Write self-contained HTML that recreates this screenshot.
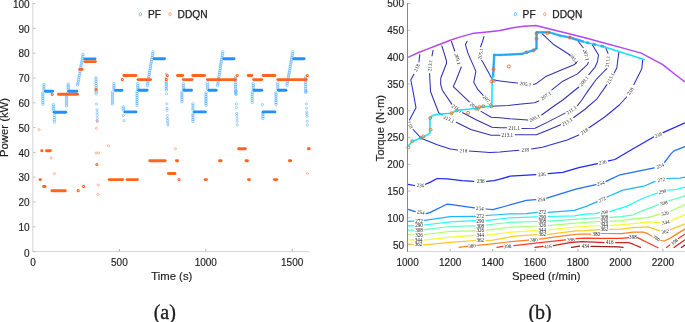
<!DOCTYPE html>
<html><head><meta charset="utf-8"><title>Figure</title>
<style>html,body{margin:0;padding:0;background:#fff}svg{display:block}</style></head>
<body><svg width="685" height="322" viewBox="0 0 685 322">
<style>
text{font-family:"Liberation Sans",Arial,Helvetica,sans-serif;fill:#1c1c1c}
.tk{font-size:10px;stroke:#1c1c1c;stroke-width:0.15px}
.lg{font-size:10.2px;fill:#1c1c1c;stroke:#1c1c1c;stroke-width:0.25px}
.lb{font-size:11.3px;stroke:#1c1c1c;stroke-width:0.15px}
.cap{font-family:"Liberation Serif","Times New Roman",serif;font-size:20px;fill:#1a1a1a;stroke:#1a1a1a;stroke-width:0.3px}
.cl{font-family:"Liberation Serif","Times New Roman",serif;font-size:5.1px;fill:#222}
</style>
<rect width="685" height="322" fill="#fff"/>
<g id="left"><path d="M32.8 3.1V251.5H309.3" fill="none" stroke="#d6d6d6" stroke-width="1.1"/><line x1="33.2" y1="251.6" x2="35.6" y2="251.6" stroke="#b0b0b0" stroke-width="0.8"/><text x="29.6" y="256.7" text-anchor="end" class="tk">0</text><line x1="33.2" y1="226.8" x2="35.6" y2="226.8" stroke="#b0b0b0" stroke-width="0.8"/><text x="29.6" y="231.0" text-anchor="end" class="tk">10</text><line x1="33.2" y1="202.0" x2="35.6" y2="202.0" stroke="#b0b0b0" stroke-width="0.8"/><text x="29.6" y="206.2" text-anchor="end" class="tk">20</text><line x1="33.2" y1="177.2" x2="35.6" y2="177.2" stroke="#b0b0b0" stroke-width="0.8"/><text x="29.6" y="181.4" text-anchor="end" class="tk">30</text><line x1="33.2" y1="152.4" x2="35.6" y2="152.4" stroke="#b0b0b0" stroke-width="0.8"/><text x="29.6" y="156.6" text-anchor="end" class="tk">40</text><line x1="33.2" y1="127.6" x2="35.6" y2="127.6" stroke="#b0b0b0" stroke-width="0.8"/><text x="29.6" y="131.8" text-anchor="end" class="tk">50</text><line x1="33.2" y1="102.8" x2="35.6" y2="102.8" stroke="#b0b0b0" stroke-width="0.8"/><text x="29.6" y="107.0" text-anchor="end" class="tk">60</text><line x1="33.2" y1="78.0" x2="35.6" y2="78.0" stroke="#b0b0b0" stroke-width="0.8"/><text x="29.6" y="82.2" text-anchor="end" class="tk">70</text><line x1="33.2" y1="53.2" x2="35.6" y2="53.2" stroke="#b0b0b0" stroke-width="0.8"/><text x="29.6" y="57.4" text-anchor="end" class="tk">80</text><line x1="33.2" y1="28.4" x2="35.6" y2="28.4" stroke="#b0b0b0" stroke-width="0.8"/><text x="29.6" y="32.6" text-anchor="end" class="tk">90</text><line x1="33.2" y1="3.6" x2="35.6" y2="3.6" stroke="#b0b0b0" stroke-width="0.8"/><text x="29.6" y="7.8" text-anchor="end" class="tk">100</text><text x="33.0" y="265.8" text-anchor="middle" class="tk">0</text><line x1="119.4" y1="251.2" x2="119.4" y2="248.9" stroke="#9a9a9a" stroke-width="0.8"/><text x="119.4" y="265.8" text-anchor="middle" class="tk">500</text><line x1="205.8" y1="251.2" x2="205.8" y2="248.9" stroke="#9a9a9a" stroke-width="0.8"/><text x="205.8" y="265.8" text-anchor="middle" class="tk">1000</text><line x1="292.2" y1="251.2" x2="292.2" y2="248.9" stroke="#9a9a9a" stroke-width="0.8"/><text x="292.2" y="265.8" text-anchor="middle" class="tk">1500</text><text x="171.8" y="279.8" text-anchor="middle" class="lb">Time (s)</text><text transform="translate(8.2 127.5) rotate(-90)" text-anchor="middle" class="lb">Power (kW)</text><ellipse cx="140.4" cy="14.2" rx="1.15" ry="1.65" fill="none" stroke="#1e90ff" stroke-width="0.7" opacity="0.8"/><text x="148" y="17.8" class="lg">PF</text><ellipse cx="170.1" cy="14.2" rx="1.15" ry="1.65" fill="none" stroke="#ff641e" stroke-width="0.7" opacity="0.8"/><text x="177.6" y="17.8" class="lg">DDQN</text><text x="164.8" y="319" text-anchor="middle" class="cap">(a)</text><circle cx="43.9" cy="84.3" r="1.25" fill="none" stroke="#1e90ff" stroke-width="0.6" opacity="0.7"/><circle cx="43.9" cy="86.2" r="1.25" fill="none" stroke="#1e90ff" stroke-width="0.6" opacity="0.7"/><circle cx="43.9" cy="88.1" r="1.25" fill="none" stroke="#1e90ff" stroke-width="0.6" opacity="0.7"/><circle cx="43.9" cy="90.0" r="1.25" fill="none" stroke="#1e90ff" stroke-width="0.6" opacity="0.7"/><circle cx="42.8" cy="93.0" r="1.25" fill="none" stroke="#1e90ff" stroke-width="0.6" opacity="0.7"/><circle cx="42.8" cy="94.9" r="1.25" fill="none" stroke="#1e90ff" stroke-width="0.6" opacity="0.7"/><circle cx="42.8" cy="96.8" r="1.25" fill="none" stroke="#1e90ff" stroke-width="0.6" opacity="0.7"/><circle cx="42.8" cy="98.7" r="1.25" fill="none" stroke="#1e90ff" stroke-width="0.6" opacity="0.7"/><circle cx="42.8" cy="100.5" r="1.25" fill="none" stroke="#1e90ff" stroke-width="0.6" opacity="0.7"/><circle cx="42.8" cy="102.4" r="1.25" fill="none" stroke="#1e90ff" stroke-width="0.6" opacity="0.7"/><circle cx="42.8" cy="104.3" r="1.25" fill="none" stroke="#1e90ff" stroke-width="0.6" opacity="0.7"/><circle cx="53.4" cy="104.6" r="1.25" fill="none" stroke="#1e90ff" stroke-width="0.6" opacity="0.7"/><circle cx="53.4" cy="106.4" r="1.25" fill="none" stroke="#1e90ff" stroke-width="0.6" opacity="0.7"/><circle cx="53.4" cy="108.2" r="1.25" fill="none" stroke="#1e90ff" stroke-width="0.6" opacity="0.7"/><circle cx="53.4" cy="110.0" r="1.25" fill="none" stroke="#1e90ff" stroke-width="0.6" opacity="0.7"/><circle cx="54.4" cy="115.5" r="1.25" fill="none" stroke="#1e90ff" stroke-width="0.6" opacity="0.7"/><circle cx="54.4" cy="117.6" r="1.25" fill="none" stroke="#1e90ff" stroke-width="0.6" opacity="0.7"/><circle cx="54.4" cy="119.7" r="1.25" fill="none" stroke="#1e90ff" stroke-width="0.6" opacity="0.7"/><circle cx="54.4" cy="121.8" r="1.25" fill="none" stroke="#1e90ff" stroke-width="0.6" opacity="0.7"/><circle cx="68.2" cy="84.3" r="1.25" fill="none" stroke="#1e90ff" stroke-width="0.6" opacity="0.7"/><circle cx="68.2" cy="86.0" r="1.25" fill="none" stroke="#1e90ff" stroke-width="0.6" opacity="0.7"/><circle cx="68.2" cy="87.8" r="1.25" fill="none" stroke="#1e90ff" stroke-width="0.6" opacity="0.7"/><circle cx="68.2" cy="89.5" r="1.25" fill="none" stroke="#1e90ff" stroke-width="0.6" opacity="0.7"/><circle cx="66.5" cy="94.0" r="1.25" fill="none" stroke="#1e90ff" stroke-width="0.6" opacity="0.7"/><circle cx="66.5" cy="96.0" r="1.25" fill="none" stroke="#1e90ff" stroke-width="0.6" opacity="0.7"/><circle cx="66.5" cy="98.0" r="1.25" fill="none" stroke="#1e90ff" stroke-width="0.6" opacity="0.7"/><circle cx="66.5" cy="100.0" r="1.25" fill="none" stroke="#1e90ff" stroke-width="0.6" opacity="0.7"/><circle cx="66.5" cy="102.0" r="1.25" fill="none" stroke="#1e90ff" stroke-width="0.6" opacity="0.7"/><circle cx="66.5" cy="104.0" r="1.25" fill="none" stroke="#1e90ff" stroke-width="0.6" opacity="0.7"/><circle cx="66.5" cy="106.0" r="1.25" fill="none" stroke="#1e90ff" stroke-width="0.6" opacity="0.7"/><circle cx="96.0" cy="77.7" r="1.25" fill="none" stroke="#1e90ff" stroke-width="0.6" opacity="0.7"/><circle cx="96.0" cy="79.7" r="1.25" fill="none" stroke="#1e90ff" stroke-width="0.6" opacity="0.7"/><circle cx="96.1" cy="81.7" r="1.25" fill="none" stroke="#1e90ff" stroke-width="0.6" opacity="0.7"/><circle cx="96.1" cy="83.7" r="1.25" fill="none" stroke="#1e90ff" stroke-width="0.6" opacity="0.7"/><circle cx="96.2" cy="85.8" r="1.25" fill="none" stroke="#1e90ff" stroke-width="0.6" opacity="0.7"/><circle cx="96.2" cy="87.8" r="1.25" fill="none" stroke="#1e90ff" stroke-width="0.6" opacity="0.7"/><circle cx="96.2" cy="89.8" r="1.25" fill="none" stroke="#1e90ff" stroke-width="0.6" opacity="0.7"/><circle cx="96.3" cy="91.8" r="1.25" fill="none" stroke="#1e90ff" stroke-width="0.6" opacity="0.7"/><circle cx="96.3" cy="93.8" r="1.25" fill="none" stroke="#1e90ff" stroke-width="0.6" opacity="0.7"/><circle cx="113.9" cy="83.6" r="1.25" fill="none" stroke="#1e90ff" stroke-width="0.6" opacity="0.7"/><circle cx="113.9" cy="85.4" r="1.25" fill="none" stroke="#1e90ff" stroke-width="0.6" opacity="0.7"/><circle cx="113.9" cy="87.2" r="1.25" fill="none" stroke="#1e90ff" stroke-width="0.6" opacity="0.7"/><circle cx="113.9" cy="89.0" r="1.25" fill="none" stroke="#1e90ff" stroke-width="0.6" opacity="0.7"/><circle cx="112.5" cy="92.2" r="1.25" fill="none" stroke="#1e90ff" stroke-width="0.6" opacity="0.7"/><circle cx="112.5" cy="94.2" r="1.25" fill="none" stroke="#1e90ff" stroke-width="0.6" opacity="0.7"/><circle cx="112.5" cy="96.1" r="1.25" fill="none" stroke="#1e90ff" stroke-width="0.6" opacity="0.7"/><circle cx="112.5" cy="98.1" r="1.25" fill="none" stroke="#1e90ff" stroke-width="0.6" opacity="0.7"/><circle cx="112.5" cy="100.0" r="1.25" fill="none" stroke="#1e90ff" stroke-width="0.6" opacity="0.7"/><circle cx="112.5" cy="102.0" r="1.25" fill="none" stroke="#1e90ff" stroke-width="0.6" opacity="0.7"/><circle cx="112.5" cy="103.9" r="1.25" fill="none" stroke="#1e90ff" stroke-width="0.6" opacity="0.7"/><circle cx="123.4" cy="106.8" r="1.25" fill="none" stroke="#1e90ff" stroke-width="0.6" opacity="0.7"/><circle cx="123.4" cy="108.4" r="1.25" fill="none" stroke="#1e90ff" stroke-width="0.6" opacity="0.7"/><circle cx="123.4" cy="110.0" r="1.25" fill="none" stroke="#1e90ff" stroke-width="0.6" opacity="0.7"/><circle cx="137.8" cy="83.6" r="1.25" fill="none" stroke="#1e90ff" stroke-width="0.6" opacity="0.7"/><circle cx="137.8" cy="85.4" r="1.25" fill="none" stroke="#1e90ff" stroke-width="0.6" opacity="0.7"/><circle cx="137.8" cy="87.2" r="1.25" fill="none" stroke="#1e90ff" stroke-width="0.6" opacity="0.7"/><circle cx="137.8" cy="89.0" r="1.25" fill="none" stroke="#1e90ff" stroke-width="0.6" opacity="0.7"/><circle cx="137.0" cy="91.5" r="1.25" fill="none" stroke="#1e90ff" stroke-width="0.6" opacity="0.7"/><circle cx="137.0" cy="93.5" r="1.25" fill="none" stroke="#1e90ff" stroke-width="0.6" opacity="0.7"/><circle cx="137.0" cy="95.4" r="1.25" fill="none" stroke="#1e90ff" stroke-width="0.6" opacity="0.7"/><circle cx="137.0" cy="97.4" r="1.25" fill="none" stroke="#1e90ff" stroke-width="0.6" opacity="0.7"/><circle cx="137.0" cy="99.4" r="1.25" fill="none" stroke="#1e90ff" stroke-width="0.6" opacity="0.7"/><circle cx="137.0" cy="101.4" r="1.25" fill="none" stroke="#1e90ff" stroke-width="0.6" opacity="0.7"/><circle cx="137.0" cy="103.3" r="1.25" fill="none" stroke="#1e90ff" stroke-width="0.6" opacity="0.7"/><circle cx="137.0" cy="105.3" r="1.25" fill="none" stroke="#1e90ff" stroke-width="0.6" opacity="0.7"/><circle cx="166.3" cy="81.4" r="1.25" fill="none" stroke="#1e90ff" stroke-width="0.6" opacity="0.7"/><circle cx="166.3" cy="83.1" r="1.25" fill="none" stroke="#1e90ff" stroke-width="0.6" opacity="0.7"/><circle cx="166.3" cy="84.9" r="1.25" fill="none" stroke="#1e90ff" stroke-width="0.6" opacity="0.7"/><circle cx="166.3" cy="86.6" r="1.25" fill="none" stroke="#1e90ff" stroke-width="0.6" opacity="0.7"/><circle cx="166.3" cy="88.4" r="1.25" fill="none" stroke="#1e90ff" stroke-width="0.6" opacity="0.7"/><circle cx="166.3" cy="90.1" r="1.25" fill="none" stroke="#1e90ff" stroke-width="0.6" opacity="0.7"/><circle cx="183.4" cy="83.6" r="1.25" fill="none" stroke="#1e90ff" stroke-width="0.6" opacity="0.7"/><circle cx="183.4" cy="85.4" r="1.25" fill="none" stroke="#1e90ff" stroke-width="0.6" opacity="0.7"/><circle cx="183.4" cy="87.2" r="1.25" fill="none" stroke="#1e90ff" stroke-width="0.6" opacity="0.7"/><circle cx="183.4" cy="89.0" r="1.25" fill="none" stroke="#1e90ff" stroke-width="0.6" opacity="0.7"/><circle cx="181.9" cy="92.2" r="1.25" fill="none" stroke="#1e90ff" stroke-width="0.6" opacity="0.7"/><circle cx="181.9" cy="94.1" r="1.25" fill="none" stroke="#1e90ff" stroke-width="0.6" opacity="0.7"/><circle cx="181.9" cy="96.0" r="1.25" fill="none" stroke="#1e90ff" stroke-width="0.6" opacity="0.7"/><circle cx="181.9" cy="97.9" r="1.25" fill="none" stroke="#1e90ff" stroke-width="0.6" opacity="0.7"/><circle cx="181.9" cy="99.8" r="1.25" fill="none" stroke="#1e90ff" stroke-width="0.6" opacity="0.7"/><circle cx="181.9" cy="101.7" r="1.25" fill="none" stroke="#1e90ff" stroke-width="0.6" opacity="0.7"/><circle cx="192.9" cy="103.9" r="1.25" fill="none" stroke="#1e90ff" stroke-width="0.6" opacity="0.7"/><circle cx="192.9" cy="105.9" r="1.25" fill="none" stroke="#1e90ff" stroke-width="0.6" opacity="0.7"/><circle cx="192.9" cy="108.0" r="1.25" fill="none" stroke="#1e90ff" stroke-width="0.6" opacity="0.7"/><circle cx="192.9" cy="110.0" r="1.25" fill="none" stroke="#1e90ff" stroke-width="0.6" opacity="0.7"/><circle cx="192.9" cy="114.0" r="1.25" fill="none" stroke="#1e90ff" stroke-width="0.6" opacity="0.7"/><circle cx="192.9" cy="115.8" r="1.25" fill="none" stroke="#1e90ff" stroke-width="0.6" opacity="0.7"/><circle cx="192.9" cy="117.7" r="1.25" fill="none" stroke="#1e90ff" stroke-width="0.6" opacity="0.7"/><circle cx="192.9" cy="119.6" r="1.25" fill="none" stroke="#1e90ff" stroke-width="0.6" opacity="0.7"/><circle cx="192.9" cy="121.4" r="1.25" fill="none" stroke="#1e90ff" stroke-width="0.6" opacity="0.7"/><circle cx="207.5" cy="82.8" r="1.25" fill="none" stroke="#1e90ff" stroke-width="0.6" opacity="0.7"/><circle cx="207.5" cy="84.9" r="1.25" fill="none" stroke="#1e90ff" stroke-width="0.6" opacity="0.7"/><circle cx="207.5" cy="86.9" r="1.25" fill="none" stroke="#1e90ff" stroke-width="0.6" opacity="0.7"/><circle cx="207.5" cy="89.0" r="1.25" fill="none" stroke="#1e90ff" stroke-width="0.6" opacity="0.7"/><circle cx="206.0" cy="92.9" r="1.25" fill="none" stroke="#1e90ff" stroke-width="0.6" opacity="0.7"/><circle cx="206.0" cy="94.7" r="1.25" fill="none" stroke="#1e90ff" stroke-width="0.6" opacity="0.7"/><circle cx="206.0" cy="96.4" r="1.25" fill="none" stroke="#1e90ff" stroke-width="0.6" opacity="0.7"/><circle cx="206.0" cy="98.2" r="1.25" fill="none" stroke="#1e90ff" stroke-width="0.6" opacity="0.7"/><circle cx="206.0" cy="100.0" r="1.25" fill="none" stroke="#1e90ff" stroke-width="0.6" opacity="0.7"/><circle cx="206.0" cy="101.8" r="1.25" fill="none" stroke="#1e90ff" stroke-width="0.6" opacity="0.7"/><circle cx="206.0" cy="103.5" r="1.25" fill="none" stroke="#1e90ff" stroke-width="0.6" opacity="0.7"/><circle cx="206.0" cy="105.3" r="1.25" fill="none" stroke="#1e90ff" stroke-width="0.6" opacity="0.7"/><circle cx="235.4" cy="77.0" r="1.25" fill="none" stroke="#1e90ff" stroke-width="0.6" opacity="0.7"/><circle cx="235.4" cy="78.9" r="1.25" fill="none" stroke="#1e90ff" stroke-width="0.6" opacity="0.7"/><circle cx="235.4" cy="80.7" r="1.25" fill="none" stroke="#1e90ff" stroke-width="0.6" opacity="0.7"/><circle cx="235.5" cy="82.6" r="1.25" fill="none" stroke="#1e90ff" stroke-width="0.6" opacity="0.7"/><circle cx="235.5" cy="84.5" r="1.25" fill="none" stroke="#1e90ff" stroke-width="0.6" opacity="0.7"/><circle cx="235.5" cy="86.3" r="1.25" fill="none" stroke="#1e90ff" stroke-width="0.6" opacity="0.7"/><circle cx="235.5" cy="88.2" r="1.25" fill="none" stroke="#1e90ff" stroke-width="0.6" opacity="0.7"/><circle cx="235.6" cy="90.1" r="1.25" fill="none" stroke="#1e90ff" stroke-width="0.6" opacity="0.7"/><circle cx="235.6" cy="91.9" r="1.25" fill="none" stroke="#1e90ff" stroke-width="0.6" opacity="0.7"/><circle cx="235.6" cy="93.8" r="1.25" fill="none" stroke="#1e90ff" stroke-width="0.6" opacity="0.7"/><circle cx="253.2" cy="83.6" r="1.25" fill="none" stroke="#1e90ff" stroke-width="0.6" opacity="0.7"/><circle cx="253.2" cy="85.4" r="1.25" fill="none" stroke="#1e90ff" stroke-width="0.6" opacity="0.7"/><circle cx="253.2" cy="87.2" r="1.25" fill="none" stroke="#1e90ff" stroke-width="0.6" opacity="0.7"/><circle cx="253.2" cy="89.0" r="1.25" fill="none" stroke="#1e90ff" stroke-width="0.6" opacity="0.7"/><circle cx="252.2" cy="92.2" r="1.25" fill="none" stroke="#1e90ff" stroke-width="0.6" opacity="0.7"/><circle cx="252.2" cy="94.2" r="1.25" fill="none" stroke="#1e90ff" stroke-width="0.6" opacity="0.7"/><circle cx="252.2" cy="96.3" r="1.25" fill="none" stroke="#1e90ff" stroke-width="0.6" opacity="0.7"/><circle cx="252.2" cy="98.3" r="1.25" fill="none" stroke="#1e90ff" stroke-width="0.6" opacity="0.7"/><circle cx="252.2" cy="100.4" r="1.25" fill="none" stroke="#1e90ff" stroke-width="0.6" opacity="0.7"/><circle cx="252.2" cy="102.4" r="1.25" fill="none" stroke="#1e90ff" stroke-width="0.6" opacity="0.7"/><circle cx="262.9" cy="113.0" r="1.25" fill="none" stroke="#1e90ff" stroke-width="0.6" opacity="0.7"/><circle cx="262.9" cy="114.8" r="1.25" fill="none" stroke="#1e90ff" stroke-width="0.6" opacity="0.7"/><circle cx="262.9" cy="116.7" r="1.25" fill="none" stroke="#1e90ff" stroke-width="0.6" opacity="0.7"/><circle cx="262.9" cy="118.5" r="1.25" fill="none" stroke="#1e90ff" stroke-width="0.6" opacity="0.7"/><circle cx="277.8" cy="82.8" r="1.25" fill="none" stroke="#1e90ff" stroke-width="0.6" opacity="0.7"/><circle cx="277.8" cy="84.9" r="1.25" fill="none" stroke="#1e90ff" stroke-width="0.6" opacity="0.7"/><circle cx="277.8" cy="86.9" r="1.25" fill="none" stroke="#1e90ff" stroke-width="0.6" opacity="0.7"/><circle cx="277.8" cy="89.0" r="1.25" fill="none" stroke="#1e90ff" stroke-width="0.6" opacity="0.7"/><circle cx="276.0" cy="92.9" r="1.25" fill="none" stroke="#1e90ff" stroke-width="0.6" opacity="0.7"/><circle cx="276.0" cy="94.9" r="1.25" fill="none" stroke="#1e90ff" stroke-width="0.6" opacity="0.7"/><circle cx="276.0" cy="96.8" r="1.25" fill="none" stroke="#1e90ff" stroke-width="0.6" opacity="0.7"/><circle cx="276.0" cy="98.8" r="1.25" fill="none" stroke="#1e90ff" stroke-width="0.6" opacity="0.7"/><circle cx="276.0" cy="100.7" r="1.25" fill="none" stroke="#1e90ff" stroke-width="0.6" opacity="0.7"/><circle cx="276.0" cy="102.6" r="1.25" fill="none" stroke="#1e90ff" stroke-width="0.6" opacity="0.7"/><circle cx="276.0" cy="104.6" r="1.25" fill="none" stroke="#1e90ff" stroke-width="0.6" opacity="0.7"/><circle cx="305.5" cy="77.0" r="1.25" fill="none" stroke="#1e90ff" stroke-width="0.6" opacity="0.7"/><circle cx="305.5" cy="78.9" r="1.25" fill="none" stroke="#1e90ff" stroke-width="0.6" opacity="0.7"/><circle cx="305.6" cy="80.8" r="1.25" fill="none" stroke="#1e90ff" stroke-width="0.6" opacity="0.7"/><circle cx="305.6" cy="82.7" r="1.25" fill="none" stroke="#1e90ff" stroke-width="0.6" opacity="0.7"/><circle cx="305.6" cy="84.7" r="1.25" fill="none" stroke="#1e90ff" stroke-width="0.6" opacity="0.7"/><circle cx="305.6" cy="86.6" r="1.25" fill="none" stroke="#1e90ff" stroke-width="0.6" opacity="0.7"/><circle cx="305.6" cy="88.5" r="1.25" fill="none" stroke="#1e90ff" stroke-width="0.6" opacity="0.7"/><circle cx="305.7" cy="90.4" r="1.25" fill="none" stroke="#1e90ff" stroke-width="0.6" opacity="0.7"/><circle cx="305.7" cy="92.3" r="1.25" fill="none" stroke="#1e90ff" stroke-width="0.6" opacity="0.7"/><circle cx="77.6" cy="85.0" r="1.25" fill="none" stroke="#1e90ff" stroke-width="0.6" opacity="0.7"/><circle cx="77.9" cy="83.1" r="1.25" fill="none" stroke="#1e90ff" stroke-width="0.6" opacity="0.7"/><circle cx="78.3" cy="81.2" r="1.25" fill="none" stroke="#1e90ff" stroke-width="0.6" opacity="0.7"/><circle cx="78.6" cy="79.3" r="1.25" fill="none" stroke="#1e90ff" stroke-width="0.6" opacity="0.7"/><circle cx="79.0" cy="77.3" r="1.25" fill="none" stroke="#1e90ff" stroke-width="0.6" opacity="0.7"/><circle cx="79.3" cy="75.4" r="1.25" fill="none" stroke="#1e90ff" stroke-width="0.6" opacity="0.7"/><circle cx="79.7" cy="73.5" r="1.25" fill="none" stroke="#1e90ff" stroke-width="0.6" opacity="0.7"/><circle cx="80.0" cy="71.6" r="1.25" fill="none" stroke="#1e90ff" stroke-width="0.6" opacity="0.7"/><circle cx="80.3" cy="69.7" r="1.25" fill="none" stroke="#1e90ff" stroke-width="0.6" opacity="0.7"/><circle cx="80.7" cy="67.8" r="1.25" fill="none" stroke="#1e90ff" stroke-width="0.6" opacity="0.7"/><circle cx="81.0" cy="65.9" r="1.25" fill="none" stroke="#1e90ff" stroke-width="0.6" opacity="0.7"/><circle cx="81.4" cy="64.0" r="1.25" fill="none" stroke="#1e90ff" stroke-width="0.6" opacity="0.7"/><circle cx="81.7" cy="62.0" r="1.25" fill="none" stroke="#1e90ff" stroke-width="0.6" opacity="0.7"/><circle cx="82.1" cy="60.1" r="1.25" fill="none" stroke="#1e90ff" stroke-width="0.6" opacity="0.7"/><circle cx="82.4" cy="58.2" r="1.25" fill="none" stroke="#1e90ff" stroke-width="0.6" opacity="0.7"/><circle cx="82.8" cy="56.3" r="1.25" fill="none" stroke="#1e90ff" stroke-width="0.6" opacity="0.7"/><circle cx="83.1" cy="54.4" r="1.25" fill="none" stroke="#1e90ff" stroke-width="0.6" opacity="0.7"/><circle cx="147.3" cy="85.7" r="1.25" fill="none" stroke="#1e90ff" stroke-width="0.6" opacity="0.7"/><circle cx="147.6" cy="83.8" r="1.25" fill="none" stroke="#1e90ff" stroke-width="0.6" opacity="0.7"/><circle cx="147.9" cy="81.9" r="1.25" fill="none" stroke="#1e90ff" stroke-width="0.6" opacity="0.7"/><circle cx="148.2" cy="80.0" r="1.25" fill="none" stroke="#1e90ff" stroke-width="0.6" opacity="0.7"/><circle cx="148.6" cy="78.2" r="1.25" fill="none" stroke="#1e90ff" stroke-width="0.6" opacity="0.7"/><circle cx="148.9" cy="76.3" r="1.25" fill="none" stroke="#1e90ff" stroke-width="0.6" opacity="0.7"/><circle cx="149.2" cy="74.4" r="1.25" fill="none" stroke="#1e90ff" stroke-width="0.6" opacity="0.7"/><circle cx="149.5" cy="72.5" r="1.25" fill="none" stroke="#1e90ff" stroke-width="0.6" opacity="0.7"/><circle cx="149.8" cy="70.6" r="1.25" fill="none" stroke="#1e90ff" stroke-width="0.6" opacity="0.7"/><circle cx="150.2" cy="68.8" r="1.25" fill="none" stroke="#1e90ff" stroke-width="0.6" opacity="0.7"/><circle cx="150.5" cy="66.9" r="1.25" fill="none" stroke="#1e90ff" stroke-width="0.6" opacity="0.7"/><circle cx="150.8" cy="65.0" r="1.25" fill="none" stroke="#1e90ff" stroke-width="0.6" opacity="0.7"/><circle cx="151.1" cy="63.1" r="1.25" fill="none" stroke="#1e90ff" stroke-width="0.6" opacity="0.7"/><circle cx="151.4" cy="61.2" r="1.25" fill="none" stroke="#1e90ff" stroke-width="0.6" opacity="0.7"/><circle cx="151.7" cy="59.3" r="1.25" fill="none" stroke="#1e90ff" stroke-width="0.6" opacity="0.7"/><circle cx="152.1" cy="57.4" r="1.25" fill="none" stroke="#1e90ff" stroke-width="0.6" opacity="0.7"/><circle cx="152.4" cy="55.6" r="1.25" fill="none" stroke="#1e90ff" stroke-width="0.6" opacity="0.7"/><circle cx="152.7" cy="53.7" r="1.25" fill="none" stroke="#1e90ff" stroke-width="0.6" opacity="0.7"/><circle cx="153.0" cy="51.8" r="1.25" fill="none" stroke="#1e90ff" stroke-width="0.6" opacity="0.7"/><circle cx="217.5" cy="85.7" r="1.25" fill="none" stroke="#1e90ff" stroke-width="0.6" opacity="0.7"/><circle cx="217.8" cy="83.8" r="1.25" fill="none" stroke="#1e90ff" stroke-width="0.6" opacity="0.7"/><circle cx="218.1" cy="81.9" r="1.25" fill="none" stroke="#1e90ff" stroke-width="0.6" opacity="0.7"/><circle cx="218.4" cy="80.0" r="1.25" fill="none" stroke="#1e90ff" stroke-width="0.6" opacity="0.7"/><circle cx="218.7" cy="78.2" r="1.25" fill="none" stroke="#1e90ff" stroke-width="0.6" opacity="0.7"/><circle cx="219.0" cy="76.3" r="1.25" fill="none" stroke="#1e90ff" stroke-width="0.6" opacity="0.7"/><circle cx="219.3" cy="74.4" r="1.25" fill="none" stroke="#1e90ff" stroke-width="0.6" opacity="0.7"/><circle cx="219.6" cy="72.5" r="1.25" fill="none" stroke="#1e90ff" stroke-width="0.6" opacity="0.7"/><circle cx="219.9" cy="70.6" r="1.25" fill="none" stroke="#1e90ff" stroke-width="0.6" opacity="0.7"/><circle cx="220.2" cy="68.8" r="1.25" fill="none" stroke="#1e90ff" stroke-width="0.6" opacity="0.7"/><circle cx="220.4" cy="66.9" r="1.25" fill="none" stroke="#1e90ff" stroke-width="0.6" opacity="0.7"/><circle cx="220.7" cy="65.0" r="1.25" fill="none" stroke="#1e90ff" stroke-width="0.6" opacity="0.7"/><circle cx="221.0" cy="63.1" r="1.25" fill="none" stroke="#1e90ff" stroke-width="0.6" opacity="0.7"/><circle cx="221.3" cy="61.2" r="1.25" fill="none" stroke="#1e90ff" stroke-width="0.6" opacity="0.7"/><circle cx="221.6" cy="59.3" r="1.25" fill="none" stroke="#1e90ff" stroke-width="0.6" opacity="0.7"/><circle cx="221.9" cy="57.4" r="1.25" fill="none" stroke="#1e90ff" stroke-width="0.6" opacity="0.7"/><circle cx="222.2" cy="55.6" r="1.25" fill="none" stroke="#1e90ff" stroke-width="0.6" opacity="0.7"/><circle cx="222.5" cy="53.7" r="1.25" fill="none" stroke="#1e90ff" stroke-width="0.6" opacity="0.7"/><circle cx="222.8" cy="51.8" r="1.25" fill="none" stroke="#1e90ff" stroke-width="0.6" opacity="0.7"/><circle cx="287.0" cy="85.3" r="1.25" fill="none" stroke="#1e90ff" stroke-width="0.6" opacity="0.7"/><circle cx="287.3" cy="83.4" r="1.25" fill="none" stroke="#1e90ff" stroke-width="0.6" opacity="0.7"/><circle cx="287.6" cy="81.6" r="1.25" fill="none" stroke="#1e90ff" stroke-width="0.6" opacity="0.7"/><circle cx="288.0" cy="79.7" r="1.25" fill="none" stroke="#1e90ff" stroke-width="0.6" opacity="0.7"/><circle cx="288.3" cy="77.9" r="1.25" fill="none" stroke="#1e90ff" stroke-width="0.6" opacity="0.7"/><circle cx="288.6" cy="76.0" r="1.25" fill="none" stroke="#1e90ff" stroke-width="0.6" opacity="0.7"/><circle cx="288.9" cy="74.1" r="1.25" fill="none" stroke="#1e90ff" stroke-width="0.6" opacity="0.7"/><circle cx="289.3" cy="72.3" r="1.25" fill="none" stroke="#1e90ff" stroke-width="0.6" opacity="0.7"/><circle cx="289.6" cy="70.4" r="1.25" fill="none" stroke="#1e90ff" stroke-width="0.6" opacity="0.7"/><circle cx="289.9" cy="68.5" r="1.25" fill="none" stroke="#1e90ff" stroke-width="0.6" opacity="0.7"/><circle cx="290.2" cy="66.7" r="1.25" fill="none" stroke="#1e90ff" stroke-width="0.6" opacity="0.7"/><circle cx="290.5" cy="64.8" r="1.25" fill="none" stroke="#1e90ff" stroke-width="0.6" opacity="0.7"/><circle cx="290.9" cy="63.0" r="1.25" fill="none" stroke="#1e90ff" stroke-width="0.6" opacity="0.7"/><circle cx="291.2" cy="61.1" r="1.25" fill="none" stroke="#1e90ff" stroke-width="0.6" opacity="0.7"/><circle cx="291.5" cy="59.2" r="1.25" fill="none" stroke="#1e90ff" stroke-width="0.6" opacity="0.7"/><circle cx="291.8" cy="57.4" r="1.25" fill="none" stroke="#1e90ff" stroke-width="0.6" opacity="0.7"/><circle cx="292.2" cy="55.5" r="1.25" fill="none" stroke="#1e90ff" stroke-width="0.6" opacity="0.7"/><circle cx="292.5" cy="53.7" r="1.25" fill="none" stroke="#1e90ff" stroke-width="0.6" opacity="0.7"/><circle cx="292.8" cy="51.8" r="1.25" fill="none" stroke="#1e90ff" stroke-width="0.6" opacity="0.7"/><circle cx="96.6" cy="103.9" r="1.1" fill="none" stroke="#1e90ff" stroke-width="0.5" opacity="0.8"/><circle cx="97.0" cy="109.7" r="1.1" fill="none" stroke="#1e90ff" stroke-width="0.5" opacity="0.8"/><circle cx="97.2" cy="112.6" r="1.1" fill="none" stroke="#1e90ff" stroke-width="0.5" opacity="0.8"/><circle cx="97.2" cy="115.5" r="1.1" fill="none" stroke="#1e90ff" stroke-width="0.5" opacity="0.8"/><circle cx="97.3" cy="118.5" r="1.1" fill="none" stroke="#1e90ff" stroke-width="0.5" opacity="0.8"/><circle cx="97.4" cy="121.4" r="1.1" fill="none" stroke="#1e90ff" stroke-width="0.5" opacity="0.8"/><circle cx="123.4" cy="115.5" r="1.1" fill="none" stroke="#1e90ff" stroke-width="0.5" opacity="0.8"/><circle cx="124.0" cy="120.7" r="1.1" fill="none" stroke="#1e90ff" stroke-width="0.5" opacity="0.8"/><circle cx="166.3" cy="74.1" r="1.1" fill="none" stroke="#1e90ff" stroke-width="0.5" opacity="0.8"/><circle cx="166.3" cy="77.7" r="1.1" fill="none" stroke="#1e90ff" stroke-width="0.5" opacity="0.8"/><circle cx="166.6" cy="93.8" r="1.1" fill="none" stroke="#1e90ff" stroke-width="0.5" opacity="0.8"/><circle cx="166.8" cy="103.9" r="1.1" fill="none" stroke="#1e90ff" stroke-width="0.5" opacity="0.8"/><circle cx="167.0" cy="108.2" r="1.1" fill="none" stroke="#1e90ff" stroke-width="0.5" opacity="0.8"/><circle cx="167.0" cy="110.4" r="1.1" fill="none" stroke="#1e90ff" stroke-width="0.5" opacity="0.8"/><circle cx="167.3" cy="115.5" r="1.1" fill="none" stroke="#1e90ff" stroke-width="0.5" opacity="0.8"/><circle cx="167.5" cy="118.5" r="1.1" fill="none" stroke="#1e90ff" stroke-width="0.5" opacity="0.8"/><circle cx="167.6" cy="120.7" r="1.1" fill="none" stroke="#1e90ff" stroke-width="0.5" opacity="0.8"/><circle cx="167.8" cy="122.8" r="1.1" fill="none" stroke="#1e90ff" stroke-width="0.5" opacity="0.8"/><circle cx="167.8" cy="125.0" r="1.1" fill="none" stroke="#1e90ff" stroke-width="0.5" opacity="0.8"/><circle cx="236.2" cy="91.5" r="1.1" fill="none" stroke="#1e90ff" stroke-width="0.5" opacity="0.8"/><circle cx="236.2" cy="94.4" r="1.1" fill="none" stroke="#1e90ff" stroke-width="0.5" opacity="0.8"/><circle cx="236.4" cy="103.9" r="1.1" fill="none" stroke="#1e90ff" stroke-width="0.5" opacity="0.8"/><circle cx="236.4" cy="107.5" r="1.1" fill="none" stroke="#1e90ff" stroke-width="0.5" opacity="0.8"/><circle cx="236.8" cy="113.4" r="1.1" fill="none" stroke="#1e90ff" stroke-width="0.5" opacity="0.8"/><circle cx="236.8" cy="115.5" r="1.1" fill="none" stroke="#1e90ff" stroke-width="0.5" opacity="0.8"/><circle cx="237.0" cy="118.5" r="1.1" fill="none" stroke="#1e90ff" stroke-width="0.5" opacity="0.8"/><circle cx="237.2" cy="121.4" r="1.1" fill="none" stroke="#1e90ff" stroke-width="0.5" opacity="0.8"/><circle cx="237.2" cy="125.0" r="1.1" fill="none" stroke="#1e90ff" stroke-width="0.5" opacity="0.8"/><circle cx="262.4" cy="104.6" r="1.1" fill="none" stroke="#1e90ff" stroke-width="0.5" opacity="0.8"/><circle cx="306.2" cy="91.5" r="1.1" fill="none" stroke="#1e90ff" stroke-width="0.5" opacity="0.8"/><circle cx="306.4" cy="103.9" r="1.1" fill="none" stroke="#1e90ff" stroke-width="0.5" opacity="0.8"/><circle cx="306.6" cy="108.2" r="1.1" fill="none" stroke="#1e90ff" stroke-width="0.5" opacity="0.8"/><circle cx="306.8" cy="111.9" r="1.1" fill="none" stroke="#1e90ff" stroke-width="0.5" opacity="0.8"/><circle cx="306.8" cy="114.1" r="1.1" fill="none" stroke="#1e90ff" stroke-width="0.5" opacity="0.8"/><circle cx="307.0" cy="116.3" r="1.1" fill="none" stroke="#1e90ff" stroke-width="0.5" opacity="0.8"/><circle cx="307.2" cy="121.4" r="1.1" fill="none" stroke="#1e90ff" stroke-width="0.5" opacity="0.8"/><circle cx="307.3" cy="125.0" r="1.1" fill="none" stroke="#1e90ff" stroke-width="0.5" opacity="0.8"/><line x1="45.4" y1="91.3" x2="52.6" y2="91.3" stroke="#1e90ff" stroke-width="2.9" stroke-linecap="round"/><line x1="54.1" y1="112.3" x2="65.8" y2="112.3" stroke="#1e90ff" stroke-width="2.9" stroke-linecap="round"/><line x1="68.7" y1="91.3" x2="76.8" y2="91.3" stroke="#1e90ff" stroke-width="2.9" stroke-linecap="round"/><line x1="84.8" y1="58.9" x2="95.0" y2="58.9" stroke="#1e90ff" stroke-width="2.9" stroke-linecap="round"/><line x1="115.4" y1="90.4" x2="122.0" y2="90.4" stroke="#1e90ff" stroke-width="2.9" stroke-linecap="round"/><line x1="124.9" y1="111.9" x2="136.0" y2="111.9" stroke="#1e90ff" stroke-width="2.9" stroke-linecap="round"/><line x1="138.8" y1="90.3" x2="147.0" y2="90.3" stroke="#1e90ff" stroke-width="2.9" stroke-linecap="round"/><line x1="154.1" y1="58.8" x2="164.5" y2="58.8" stroke="#1e90ff" stroke-width="2.9" stroke-linecap="round"/><line x1="184.1" y1="90.3" x2="191.5" y2="90.3" stroke="#1e90ff" stroke-width="2.9" stroke-linecap="round"/><line x1="194.3" y1="111.9" x2="205.4" y2="111.9" stroke="#1e90ff" stroke-width="2.9" stroke-linecap="round"/><line x1="208.9" y1="90.3" x2="216.2" y2="90.3" stroke="#1e90ff" stroke-width="2.9" stroke-linecap="round"/><line x1="223.8" y1="58.8" x2="234.0" y2="58.8" stroke="#1e90ff" stroke-width="2.9" stroke-linecap="round"/><line x1="254.1" y1="90.3" x2="261.8" y2="90.3" stroke="#1e90ff" stroke-width="2.9" stroke-linecap="round"/><line x1="263.1" y1="111.9" x2="274.9" y2="111.9" stroke="#1e90ff" stroke-width="2.9" stroke-linecap="round"/><line x1="278.4" y1="90.3" x2="285.9" y2="90.3" stroke="#1e90ff" stroke-width="2.9" stroke-linecap="round"/><line x1="293.8" y1="58.8" x2="304.1" y2="58.8" stroke="#1e90ff" stroke-width="2.9" stroke-linecap="round"/><line x1="58.5" y1="94.3" x2="77.5" y2="94.3" stroke="#ff641e" stroke-width="2.9" stroke-linecap="round"/><line x1="79.7" y1="69.4" x2="82.2" y2="69.4" stroke="#ff641e" stroke-width="2.9" stroke-linecap="round"/><line x1="84.8" y1="61.6" x2="95.5" y2="61.6" stroke="#ff641e" stroke-width="2.9" stroke-linecap="round"/><line x1="41.7" y1="150.7" x2="42.0" y2="150.7" stroke="#ff641e" stroke-width="2.9" stroke-linecap="round"/><line x1="46.5" y1="150.7" x2="50.4" y2="150.7" stroke="#ff641e" stroke-width="2.9" stroke-linecap="round"/><line x1="40.0" y1="179.6" x2="40.5" y2="179.6" stroke="#ff641e" stroke-width="2.9" stroke-linecap="round"/><line x1="43.6" y1="186.5" x2="45.0" y2="186.5" stroke="#ff641e" stroke-width="2.9" stroke-linecap="round"/><line x1="51.9" y1="190.7" x2="65.3" y2="190.7" stroke="#ff641e" stroke-width="2.9" stroke-linecap="round"/><line x1="109.2" y1="179.6" x2="122.8" y2="179.6" stroke="#ff641e" stroke-width="2.9" stroke-linecap="round"/><line x1="127.0" y1="179.6" x2="137.5" y2="179.6" stroke="#ff641e" stroke-width="2.9" stroke-linecap="round"/><line x1="123.8" y1="75.5" x2="136.0" y2="75.5" stroke="#ff641e" stroke-width="2.9" stroke-linecap="round"/><line x1="177.5" y1="75.5" x2="182.7" y2="75.5" stroke="#ff641e" stroke-width="2.9" stroke-linecap="round"/><line x1="192.8" y1="75.5" x2="204.6" y2="75.5" stroke="#ff641e" stroke-width="2.9" stroke-linecap="round"/><line x1="248.2" y1="75.5" x2="251.8" y2="75.5" stroke="#ff641e" stroke-width="2.9" stroke-linecap="round"/><line x1="263.1" y1="75.5" x2="274.9" y2="75.5" stroke="#ff641e" stroke-width="2.9" stroke-linecap="round"/><line x1="138.1" y1="79.6" x2="150.6" y2="79.6" stroke="#ff641e" stroke-width="2.9" stroke-linecap="round"/><line x1="183.3" y1="79.6" x2="192.2" y2="79.6" stroke="#ff641e" stroke-width="2.9" stroke-linecap="round"/><line x1="207.4" y1="79.6" x2="235.5" y2="79.6" stroke="#ff641e" stroke-width="2.9" stroke-linecap="round"/><line x1="253.6" y1="79.6" x2="261.8" y2="79.6" stroke="#ff641e" stroke-width="2.9" stroke-linecap="round"/><line x1="277.8" y1="79.6" x2="306.2" y2="79.6" stroke="#ff641e" stroke-width="2.9" stroke-linecap="round"/><line x1="149.8" y1="160.7" x2="165.2" y2="160.7" stroke="#ff641e" stroke-width="2.9" stroke-linecap="round"/><line x1="176.4" y1="160.7" x2="177.6" y2="160.7" stroke="#ff641e" stroke-width="2.9" stroke-linecap="round"/><line x1="219.5" y1="160.7" x2="221.1" y2="160.7" stroke="#ff641e" stroke-width="2.9" stroke-linecap="round"/><line x1="246.0" y1="160.7" x2="247.5" y2="160.7" stroke="#ff641e" stroke-width="2.9" stroke-linecap="round"/><line x1="289.4" y1="160.7" x2="290.7" y2="160.7" stroke="#ff641e" stroke-width="2.9" stroke-linecap="round"/><line x1="168.4" y1="173.5" x2="175.0" y2="173.5" stroke="#ff641e" stroke-width="2.9" stroke-linecap="round"/><line x1="205.2" y1="179.6" x2="206.5" y2="179.6" stroke="#ff641e" stroke-width="2.9" stroke-linecap="round"/><line x1="248.5" y1="179.6" x2="249.4" y2="179.6" stroke="#ff641e" stroke-width="2.9" stroke-linecap="round"/><line x1="274.4" y1="179.6" x2="276.7" y2="179.6" stroke="#ff641e" stroke-width="2.9" stroke-linecap="round"/><line x1="238.6" y1="148.7" x2="245.4" y2="148.7" stroke="#ff641e" stroke-width="2.9" stroke-linecap="round"/><line x1="308.4" y1="148.7" x2="309.2" y2="148.7" stroke="#ff641e" stroke-width="2.9" stroke-linecap="round"/><circle cx="39.1" cy="129.7" r="1.1" fill="none" stroke="#ff641e" stroke-width="0.5" opacity="0.85"/><circle cx="96.4" cy="128.4" r="1.1" fill="none" stroke="#ff641e" stroke-width="0.5" opacity="0.85"/><circle cx="97.2" cy="120.7" r="1.1" fill="none" stroke="#ff641e" stroke-width="0.5" opacity="0.85"/><circle cx="51.2" cy="158.0" r="1.1" fill="none" stroke="#ff641e" stroke-width="0.5" opacity="0.85"/><circle cx="54.4" cy="173.7" r="1.1" fill="none" stroke="#ff641e" stroke-width="0.5" opacity="0.85"/><circle cx="108.5" cy="145.8" r="1.1" fill="none" stroke="#ff641e" stroke-width="0.5" opacity="0.85"/><circle cx="96.1" cy="153.1" r="1.1" fill="none" stroke="#ff641e" stroke-width="0.5" opacity="0.85"/><circle cx="98.6" cy="153.1" r="1.1" fill="none" stroke="#ff641e" stroke-width="0.5" opacity="0.85"/><circle cx="98.3" cy="185.0" r="1.1" fill="none" stroke="#ff641e" stroke-width="0.5" opacity="0.85"/><circle cx="97.9" cy="194.5" r="1.1" fill="none" stroke="#ff641e" stroke-width="0.5" opacity="0.85"/><circle cx="175.4" cy="148.7" r="1.1" fill="none" stroke="#ff641e" stroke-width="0.5" opacity="0.85"/><circle cx="307.4" cy="173.5" r="1.1" fill="none" stroke="#ff641e" stroke-width="0.5" opacity="0.85"/><circle cx="52.2" cy="94.3" r="1.05" fill="none" stroke="#ff641e" stroke-width="1.1"/><circle cx="122.3" cy="79.6" r="1.05" fill="none" stroke="#ff641e" stroke-width="1.1"/><circle cx="167.3" cy="75.5" r="1.05" fill="none" stroke="#ff641e" stroke-width="1.1"/><circle cx="166.3" cy="79.6" r="1.05" fill="none" stroke="#ff641e" stroke-width="1.1"/><circle cx="237.2" cy="75.5" r="1.05" fill="none" stroke="#ff641e" stroke-width="1.1"/><circle cx="307.3" cy="75.5" r="1.05" fill="none" stroke="#ff641e" stroke-width="1.1"/><circle cx="96.0" cy="89.7" r="1.05" fill="none" stroke="#ff641e" stroke-width="1.1"/><circle cx="179.0" cy="179.6" r="1.05" fill="none" stroke="#ff641e" stroke-width="1.1"/><circle cx="78.2" cy="190.7" r="1.05" fill="none" stroke="#ff641e" stroke-width="1.1"/><circle cx="83.6" cy="186.5" r="1.05" fill="none" stroke="#ff641e" stroke-width="1.1"/><circle cx="96.9" cy="164.5" r="1.05" fill="none" stroke="#ff641e" stroke-width="1.1"/></g>
<g id="right"><path d="M484.0 36.5 L482.3 42.0 L480.6 46.8M481.8 60.5 L482.5 61.5 L492.5 79.8 L500.0 80.9 L508.0 82.0 L517.5 83.1M533.6 84.5 L536.5 83.4 L545.3 76.8 L560.0 70.5 L574.0 64.8 L576.3 63.0 L576.0 62.0M570.0 55.0 L554.0 44.8 L542.3 33.9" fill="none" stroke="#1414a3" stroke-width="1.05" stroke-linejoin="round" stroke-linecap="round" opacity="0.88"/><path d="M467.1 41.2 L465.4 44.4 L467.9 53.1 L475.9 71.4 L473.7 82.3 L477.3 88.8 L483.2 95.3M491.5 106.3 L508.0 105.5 L519.0 104.2 L534.5 102.7 L538.7 100.9M551.8 89.9 L562.8 81.2 L577.4 73.9 L587.6 64.4 L588.3 62.3M583.2 47.7 L578.1 41.2" fill="none" stroke="#1414a3" stroke-width="1.05" stroke-linejoin="round" stroke-linecap="round" opacity="0.88"/><path d="M451.5 41.5 L454.7 51.0M461.3 67.0 L456.2 80.0 L453.3 86.6 L469.3 101.9M481.0 111.4 L491.2 117.2 L500.0 117.8 L510.0 118.8 L527.7 120.1M541.6 115.0 L552.6 107.0 L562.8 100.0 L578.8 87.0M588.8 74.6 L594.9 67.3 L597.4 62.0 L598.5 55.0 L592.5 45.0" fill="none" stroke="#1414a3" stroke-width="1.05" stroke-linejoin="round" stroke-linecap="round" opacity="0.88"/><path d="M441.9 45.8 L446.5 61.0 L446.5 63.3 L440.8 78.0 L440.6 84.0 L442.3 90.2 L451.8 104.1M462.7 112.8 L476.6 120.0 L492.0 127.3 L500.0 127.7 L506.6 127.8M521.9 128.5 L535.0 128.2 L548.2 121.9 L565.0 113.1M577.4 105.8 L581.8 100.0 L587.6 91.4 L596.7 78.8 L605.4 70.0 L606.9 68.7M608.0 53.4 L605.4 46.8" fill="none" stroke="#1414a3" stroke-width="1.05" stroke-linejoin="round" stroke-linecap="round" opacity="0.88"/><path d="M433.1 50.2 L432.0 56.0M429.6 73.6 L429.9 80.0 L430.6 91.7 L438.7 112.8 L442.3 115.0M456.2 122.3 L470.8 129.5 L491.2 135.3 L500.0 135.2M515.3 134.7 L536.5 134.7 L548.2 129.9 L560.6 124.8M573.7 117.5 L584.7 109.5 L596.7 99.2 L606.9 84.6M614.2 72.9 L616.8 68.0 L618.9 51.9" fill="none" stroke="#1414a3" stroke-width="1.05" stroke-linejoin="round" stroke-linecap="round" opacity="0.88"/><path d="M419.7 54.6 L419.0 62.0M413.8 74.3 L410.8 80.0 L413.1 91.7 L416.0 107.7 L409.5 120.0M413.1 129.5 L421.1 138.2 L437.2 144.8 L450.3 148.9 L457.6 149.9M469.3 151.1 L489.8 152.4 L500.0 152.0 L519.0 150.2M531.4 149.0 L542.3 147.3 L567.2 140.0 L578.8 135.0M589.0 127.7 L604.7 117.0 L619.3 105.0 L626.6 97.0M633.9 84.6 L641.2 70.0 L641.9 68.0 L642.7 59.9" fill="none" stroke="#0f0fcc" stroke-width="1.05" stroke-linejoin="round" stroke-linecap="round" opacity="0.88"/><path d="M408.0 184.3 L414.6 185.5M425.5 184.3 L429.9 182.4 L437.2 178.5 L447.4 178.9 L462.0 180.7 L473.7 181.4M486.8 181.4 L494.1 180.7 L500.0 179.1 L510.2 176.2 L535.8 174.7M548.2 173.6 L562.8 172.4 L578.8 167.7 L597.4 163.6M608.4 160.9 L614.9 159.5 L631.0 150.0 L653.6 137.0M663.1 132.6 L685.0 122.8" fill="none" stroke="#000aff" stroke-width="1.25" stroke-linejoin="round" stroke-linecap="round" opacity="0.88"/><path d="M408.0 209.3 L415.3 211.6M426.2 213.6 L429.9 212.6 L446.7 204.2 L451.8 204.6 L474.4 207.8M486.1 209.0 L492.7 209.7 L508.0 205.5 L526.3 200.4 L535.8 199.7M546.7 198.2 L575.9 189.1 L596.0 184.6M606.2 181.4 L620.0 174.8 L654.3 167.8M664.6 162.4 L671.1 153.6 L674.0 150.9 L685.0 146.5" fill="none" stroke="#005aff" stroke-width="1.25" stroke-linejoin="round" stroke-linecap="round" opacity="0.88"/><path d="M408.0 221.4 L413.8 221.1M424.4 220.4 L450.3 216.7 L475.2 216.3M486.1 215.5 L508.0 214.0 L526.3 213.6 L537.2 212.4M548.2 212.4 L574.5 210.4 L586.1 206.3 L597.4 201.7M606.9 197.0 L623.0 190.1 L644.9 185.8 L655.1 181.4M666.8 178.5 L679.9 178.2 L685.0 177.0" fill="none" stroke="#00aaff" stroke-width="1.25" stroke-linejoin="round" stroke-linecap="round" opacity="0.88"/><path d="M408.0 225.8 L413.8 225.8M424.4 225.0 L450.3 221.8 L475.2 220.7M486.1 220.7 L508.0 218.0 L537.2 216.9M548.2 216.5 L574.5 215.8 L585.0 214.1 L595.2 213.6 L599.6 212.6M609.8 211.6 L627.3 206.1 L643.4 198.0 L657.3 193.2M667.5 190.1 L675.5 189.7 L685.0 187.2" fill="none" stroke="#00faff" stroke-width="1.25" stroke-linejoin="round" stroke-linecap="round" opacity="0.88"/><path d="M408.0 230.1 L413.8 230.4M424.4 229.7 L450.3 226.5 L475.2 225.8M486.1 225.0 L508.0 222.5 L537.2 221.5M548.2 221.2 L575.2 219.4 L585.0 218.5 L599.6 217.7M609.8 217.4 L621.5 216.6 L633.2 214.8 L643.4 210.4 L658.7 204.6M668.9 200.9 L685.0 195.8" fill="none" stroke="#4cffb2" stroke-width="1.25" stroke-linejoin="round" stroke-linecap="round" opacity="0.88"/><path d="M408.0 234.5 L413.8 235.0M424.4 234.5 L450.3 231.3 L475.2 230.9M486.1 230.1 L508.0 227.5 L537.2 226.0M548.2 225.6 L575.2 223.2 L585.0 222.4 L599.6 221.4M609.8 221.4 L621.5 220.7 L633.2 218.9 L647.8 217.7 L659.5 214.1M670.4 211.2 L685.0 204.6" fill="none" stroke="#9cff62" stroke-width="1.25" stroke-linejoin="round" stroke-linecap="round" opacity="0.88"/><path d="M408.0 239.8 L413.8 239.8M423.8 240.1 L450.3 237.2 L475.2 235.4M486.1 235.4 L508.0 232.5 L537.2 230.3M548.2 229.9 L575.9 227.0 L585.0 226.5 L599.6 225.5M609.8 225.3 L621.5 224.7 L633.2 223.6 L649.2 221.8 L660.2 222.8M671.1 220.7 L685.0 214.5" fill="none" stroke="#ecff12" stroke-width="1.25" stroke-linejoin="round" stroke-linecap="round" opacity="0.88"/><path d="M408.0 244.2 L413.5 244.6M423.8 244.9 L450.3 242.4 L475.2 240.5M486.1 240.5 L492.7 240.1 L508.0 237.3 L514.6 236.2 L537.2 234.7M548.2 234.4 L575.9 230.8 L585.0 230.6 L599.6 229.7M609.8 229.4 L621.5 229.1 L633.2 227.7 L647.8 226.8 L653.6 228.7 L659.5 230.9M670.4 229.7 L685.0 223.9" fill="none" stroke="#ffc100" stroke-width="1.25" stroke-linejoin="round" stroke-linecap="round" opacity="0.88"/><path d="M459.1 247.4 L467.9 246.1M477.3 245.4 L489.8 244.2 L508.0 242.0 L528.5 240.1M539.4 239.1 L567.2 235.4 L578.8 234.0 L590.8 234.2M601.1 233.5 L621.5 233.7 L633.2 232.2 L643.4 232.2 L647.8 233.7 L652.2 236.2M660.9 240.5 L664.6 241.0 L671.1 237.6 L685.0 228.9" fill="none" stroke="#ff7100" stroke-width="1.25" stroke-linejoin="round" stroke-linecap="round" opacity="0.88"/><path d="M497.0 247.4 L502.9 246.4M513.9 245.7 L542.3 242.4 L565.7 239.8M575.9 238.6 L584.7 238.1 L600.0 238.4 L621.5 238.4 L628.8 237.6M637.6 237.6 L646.3 242.0 L658.0 247.8M666.5 247.4 L669.7 244.9M678.4 238.4 L685.0 234.0" fill="none" stroke="#ff2000" stroke-width="1.25" stroke-linejoin="round" stroke-linecap="round" opacity="0.88"/><path d="M535.0 247.4 L543.1 246.4M553.3 245.7 L570.1 242.7 L581.8 241.7 L600.0 242.3 L604.0 242.7M615.7 242.7 L628.8 242.7 L633.2 244.2 L640.5 247.4M674.0 247.4 L685.0 239.8" fill="none" stroke="#cf0000" stroke-width="1.25" stroke-linejoin="round" stroke-linecap="round" opacity="0.88"/><path d="M571.5 247.4 L579.6 246.1M591.0 246.4 L618.6 246.8 L623.0 247.4M681.4 247.4 L685.0 245.0" fill="none" stroke="#7f0000" stroke-width="1.25" stroke-linejoin="round" stroke-linecap="round" opacity="0.88"/><text transform="translate(480.6 53.9) rotate(-80)" y="1.7" text-anchor="middle" class="cl">205.1</text><text transform="translate(525.5 84.1) rotate(8)" y="1.7" text-anchor="middle" class="cl">205.1</text><text transform="translate(573.7 58.7) rotate(55)" y="1.7" text-anchor="middle" class="cl">205.1</text><text transform="translate(487.6 100.4) rotate(50)" y="1.7" text-anchor="middle" class="cl">207.1</text><text transform="translate(546.0 95.8) rotate(-35)" y="1.7" text-anchor="middle" class="cl">207.1</text><text transform="translate(586.1 55.0) rotate(75)" y="1.7" text-anchor="middle" class="cl">207.1</text><text transform="translate(457.6 59.0) rotate(75)" y="1.7" text-anchor="middle" class="cl">209.1</text><text transform="translate(475.2 107.0) rotate(35)" y="1.7" text-anchor="middle" class="cl">209.1</text><text transform="translate(534.7 118.2) rotate(-25)" y="1.7" text-anchor="middle" class="cl">209.1</text><text transform="translate(583.9 81.2) rotate(-50)" y="1.7" text-anchor="middle" class="cl">209.1</text><text transform="translate(456.9 108.5) rotate(35)" y="1.7" text-anchor="middle" class="cl">211.1</text><text transform="translate(514.2 128.2) rotate(0)" y="1.7" text-anchor="middle" class="cl">211.1</text><text transform="translate(571.5 110.2) rotate(-35)" y="1.7" text-anchor="middle" class="cl">211.1</text><text transform="translate(607.6 61.4) rotate(-85)" y="1.7" text-anchor="middle" class="cl">211.1</text><text transform="translate(430.0 65.5) rotate(-85)" y="1.7" text-anchor="middle" class="cl">213.1</text><text transform="translate(448.9 119.1) rotate(25)" y="1.7" text-anchor="middle" class="cl">213.1</text><text transform="translate(507.3 135.0) rotate(0)" y="1.7" text-anchor="middle" class="cl">213.1</text><text transform="translate(567.2 121.9) rotate(-30)" y="1.7" text-anchor="middle" class="cl">213.1</text><text transform="translate(610.5 78.5) rotate(-65)" y="1.7" text-anchor="middle" class="cl">213.1</text><text transform="translate(416.8 67.7) rotate(-65)" y="1.7" text-anchor="middle" class="cl">218</text><text transform="translate(410.0 124.7) rotate(65)" y="1.7" text-anchor="middle" class="cl">218</text><text transform="translate(463.5 150.7) rotate(3)" y="1.7" text-anchor="middle" class="cl">218</text><text transform="translate(525.1 149.8) rotate(-3)" y="1.7" text-anchor="middle" class="cl">218</text><text transform="translate(584.4 131.4) rotate(-35)" y="1.7" text-anchor="middle" class="cl">218</text><text transform="translate(630.3 91.2) rotate(-60)" y="1.7" text-anchor="middle" class="cl">218</text><text transform="translate(420.4 185.3) rotate(5)" y="1.7" text-anchor="middle" class="cl">236</text><text transform="translate(480.7 181.4) rotate(0)" y="1.7" text-anchor="middle" class="cl">236</text><text transform="translate(542.0 174.3) rotate(-3)" y="1.7" text-anchor="middle" class="cl">236</text><text transform="translate(602.8 162.4) rotate(-10)" y="1.7" text-anchor="middle" class="cl">236</text><text transform="translate(658.3 135.1) rotate(-25)" y="1.7" text-anchor="middle" class="cl">236</text><text transform="translate(420.8 212.3) rotate(10)" y="1.7" text-anchor="middle" class="cl">254</text><text transform="translate(479.8 208.5) rotate(5)" y="1.7" text-anchor="middle" class="cl">254</text><text transform="translate(541.2 199.4) rotate(-3)" y="1.7" text-anchor="middle" class="cl">254</text><text transform="translate(600.8 183.3) rotate(-15)" y="1.7" text-anchor="middle" class="cl">254</text><text transform="translate(660.2 165.8) rotate(-20)" y="1.7" text-anchor="middle" class="cl">254</text><text transform="translate(419.0 221.1) rotate(0)" y="1.7" text-anchor="middle" class="cl">272</text><text transform="translate(480.3 216.3) rotate(0)" y="1.7" text-anchor="middle" class="cl">272</text><text transform="translate(542.3 212.4) rotate(0)" y="1.7" text-anchor="middle" class="cl">272</text><text transform="translate(602.2 199.5) rotate(-25)" y="1.7" text-anchor="middle" class="cl">272</text><text transform="translate(661.2 179.9) rotate(-10)" y="1.7" text-anchor="middle" class="cl">272</text><text transform="translate(419.0 225.6) rotate(0)" y="1.7" text-anchor="middle" class="cl">290</text><text transform="translate(480.3 221.0) rotate(0)" y="1.7" text-anchor="middle" class="cl">290</text><text transform="translate(542.3 216.9) rotate(0)" y="1.7" text-anchor="middle" class="cl">290</text><text transform="translate(604.3 212.2) rotate(-5)" y="1.7" text-anchor="middle" class="cl">290</text><text transform="translate(662.4 191.6) rotate(-10)" y="1.7" text-anchor="middle" class="cl">290</text><text transform="translate(419.0 230.4) rotate(0)" y="1.7" text-anchor="middle" class="cl">308</text><text transform="translate(480.3 225.8) rotate(0)" y="1.7" text-anchor="middle" class="cl">308</text><text transform="translate(542.3 221.3) rotate(0)" y="1.7" text-anchor="middle" class="cl">308</text><text transform="translate(604.3 217.3) rotate(0)" y="1.7" text-anchor="middle" class="cl">308</text><text transform="translate(663.8 203.1) rotate(-15)" y="1.7" text-anchor="middle" class="cl">308</text><text transform="translate(419.0 235.2) rotate(0)" y="1.7" text-anchor="middle" class="cl">326</text><text transform="translate(480.3 230.6) rotate(0)" y="1.7" text-anchor="middle" class="cl">326</text><text transform="translate(542.3 225.6) rotate(0)" y="1.7" text-anchor="middle" class="cl">326</text><text transform="translate(604.3 221.1) rotate(0)" y="1.7" text-anchor="middle" class="cl">326</text><text transform="translate(665.0 213.4) rotate(-15)" y="1.7" text-anchor="middle" class="cl">326</text><text transform="translate(418.5 239.8) rotate(0)" y="1.7" text-anchor="middle" class="cl">344</text><text transform="translate(480.3 235.4) rotate(0)" y="1.7" text-anchor="middle" class="cl">344</text><text transform="translate(542.3 229.9) rotate(0)" y="1.7" text-anchor="middle" class="cl">344</text><text transform="translate(604.3 225.0) rotate(0)" y="1.7" text-anchor="middle" class="cl">344</text><text transform="translate(665.7 222.4) rotate(-10)" y="1.7" text-anchor="middle" class="cl">344</text><text transform="translate(418.5 244.6) rotate(0)" y="1.7" text-anchor="middle" class="cl">362</text><text transform="translate(480.3 240.5) rotate(0)" y="1.7" text-anchor="middle" class="cl">362</text><text transform="translate(542.3 234.4) rotate(0)" y="1.7" text-anchor="middle" class="cl">362</text><text transform="translate(604.3 229.4) rotate(0)" y="1.7" text-anchor="middle" class="cl">362</text><text transform="translate(665.3 231.6) rotate(-10)" y="1.7" text-anchor="middle" class="cl">362</text><text transform="translate(472.2 246.0) rotate(-5)" y="1.7" text-anchor="middle" class="cl">380</text><text transform="translate(533.9 239.8) rotate(-5)" y="1.7" text-anchor="middle" class="cl">380</text><text transform="translate(596.2 234.1) rotate(0)" y="1.7" text-anchor="middle" class="cl">380</text><text transform="translate(656.5 238.1) rotate(35)" y="1.7" text-anchor="middle" class="cl">380</text><text transform="translate(507.5 246.3) rotate(-5)" y="1.7" text-anchor="middle" class="cl">398</text><text transform="translate(570.8 239.8) rotate(-5)" y="1.7" text-anchor="middle" class="cl">398</text><text transform="translate(632.9 237.3) rotate(0)" y="1.7" text-anchor="middle" class="cl">398</text><text transform="translate(674.3 242.0) rotate(-40)" y="1.7" text-anchor="middle" class="cl">398</text><text transform="translate(547.9 246.4) rotate(-5)" y="1.7" text-anchor="middle" class="cl">416</text><text transform="translate(609.8 242.7) rotate(0)" y="1.7" text-anchor="middle" class="cl">416</text><text transform="translate(585.5 246.4) rotate(0)" y="1.7" text-anchor="middle" class="cl">434</text><polyline points="408.0,57.4 418.0,52.8 428.0,48.9 438.0,45.0 451.0,40.0 458.0,37.6 472.0,33.6 492.0,31.4 500.0,30.5 514.6,27.4 524.0,26.3 535.8,25.6 565.0,32.8 585.0,37.8 605.0,43.3 625.0,48.6 641.2,53.1 662.4,64.3 678.4,77.0 685.0,82.0" fill="none" stroke="#b347f2" stroke-width="1.5" stroke-linejoin="round"/><polyline points="408.0,146.3 412.4,141.2 420.4,138.2 424.1,136.8 429.9,133.1 429.9,118.2 432.1,115.8 437.2,114.3 438.7,114.3 451.5,113.3 454.7,111.4 457.6,110.2 476.3,108.5 482.5,106.6 491.8,106.4 492.2,80.5 494.2,54.8 500.0,55.0 521.9,53.9 526.3,52.4 533.6,50.4 536.5,48.5 536.5,32.4 549.6,32.4 560.0,35.6 569.5,37.4 586.3,42.5 602.3,46.2 644.9,59.7" fill="none" stroke="#12e6ff" stroke-width="1.6" stroke-linejoin="round"/><circle cx="493.3" cy="76.5" r="0.8" fill="none" stroke="#2a9df4" stroke-width="0.7" opacity="0.9"/><circle cx="493.3" cy="75.6" r="0.8" fill="none" stroke="#2a9df4" stroke-width="0.7" opacity="0.9"/><circle cx="493.4" cy="74.7" r="0.8" fill="none" stroke="#2a9df4" stroke-width="0.7" opacity="0.9"/><circle cx="493.4" cy="73.8" r="0.8" fill="none" stroke="#2a9df4" stroke-width="0.7" opacity="0.9"/><circle cx="493.4" cy="72.9" r="0.8" fill="none" stroke="#2a9df4" stroke-width="0.7" opacity="0.9"/><circle cx="493.5" cy="72.0" r="0.8" fill="none" stroke="#2a9df4" stroke-width="0.7" opacity="0.9"/><circle cx="493.5" cy="71.1" r="0.8" fill="none" stroke="#2a9df4" stroke-width="0.7" opacity="0.9"/><circle cx="493.6" cy="70.2" r="0.8" fill="none" stroke="#2a9df4" stroke-width="0.7" opacity="0.9"/><circle cx="493.6" cy="69.3" r="0.8" fill="none" stroke="#2a9df4" stroke-width="0.7" opacity="0.9"/><circle cx="493.6" cy="68.4" r="0.8" fill="none" stroke="#2a9df4" stroke-width="0.7" opacity="0.9"/><circle cx="493.7" cy="67.5" r="0.8" fill="none" stroke="#2a9df4" stroke-width="0.7" opacity="0.9"/><circle cx="493.7" cy="66.6" r="0.8" fill="none" stroke="#2a9df4" stroke-width="0.7" opacity="0.9"/><circle cx="493.8" cy="65.7" r="0.8" fill="none" stroke="#2a9df4" stroke-width="0.7" opacity="0.9"/><circle cx="493.8" cy="64.7" r="0.8" fill="none" stroke="#2a9df4" stroke-width="0.7" opacity="0.9"/><circle cx="493.8" cy="63.8" r="0.8" fill="none" stroke="#2a9df4" stroke-width="0.7" opacity="0.9"/><circle cx="493.9" cy="62.9" r="0.8" fill="none" stroke="#2a9df4" stroke-width="0.7" opacity="0.9"/><circle cx="493.9" cy="62.0" r="0.8" fill="none" stroke="#2a9df4" stroke-width="0.7" opacity="0.9"/><circle cx="493.9" cy="61.1" r="0.8" fill="none" stroke="#2a9df4" stroke-width="0.7" opacity="0.9"/><circle cx="494.0" cy="60.2" r="0.8" fill="none" stroke="#2a9df4" stroke-width="0.7" opacity="0.9"/><circle cx="494.0" cy="59.3" r="0.8" fill="none" stroke="#2a9df4" stroke-width="0.7" opacity="0.9"/><circle cx="494.1" cy="58.4" r="0.8" fill="none" stroke="#2a9df4" stroke-width="0.7" opacity="0.9"/><circle cx="494.1" cy="57.5" r="0.8" fill="none" stroke="#2a9df4" stroke-width="0.7" opacity="0.9"/><circle cx="494.1" cy="56.6" r="0.8" fill="none" stroke="#2a9df4" stroke-width="0.7" opacity="0.9"/><circle cx="494.2" cy="55.7" r="0.8" fill="none" stroke="#2a9df4" stroke-width="0.7" opacity="0.9"/><circle cx="494.2" cy="54.8" r="0.8" fill="none" stroke="#2a9df4" stroke-width="0.7" opacity="0.9"/><circle cx="494.2" cy="54.8" r="0.8" fill="none" stroke="#2a9df4" stroke-width="0.7" opacity="0.9"/><circle cx="495.2" cy="54.8" r="0.8" fill="none" stroke="#2a9df4" stroke-width="0.7" opacity="0.9"/><circle cx="496.1" cy="54.9" r="0.8" fill="none" stroke="#2a9df4" stroke-width="0.7" opacity="0.9"/><circle cx="497.1" cy="54.9" r="0.8" fill="none" stroke="#2a9df4" stroke-width="0.7" opacity="0.9"/><circle cx="498.1" cy="54.9" r="0.8" fill="none" stroke="#2a9df4" stroke-width="0.7" opacity="0.9"/><circle cx="499.0" cy="55.0" r="0.8" fill="none" stroke="#2a9df4" stroke-width="0.7" opacity="0.9"/><circle cx="500.0" cy="55.0" r="0.8" fill="none" stroke="#2a9df4" stroke-width="0.7" opacity="0.9"/><circle cx="500.0" cy="55.0" r="0.8" fill="none" stroke="#2a9df4" stroke-width="0.7" opacity="0.9"/><circle cx="500.9" cy="55.0" r="0.8" fill="none" stroke="#2a9df4" stroke-width="0.7" opacity="0.9"/><circle cx="501.8" cy="54.9" r="0.8" fill="none" stroke="#2a9df4" stroke-width="0.7" opacity="0.9"/><circle cx="502.7" cy="54.9" r="0.8" fill="none" stroke="#2a9df4" stroke-width="0.7" opacity="0.9"/><circle cx="503.6" cy="54.8" r="0.8" fill="none" stroke="#2a9df4" stroke-width="0.7" opacity="0.9"/><circle cx="504.6" cy="54.8" r="0.8" fill="none" stroke="#2a9df4" stroke-width="0.7" opacity="0.9"/><circle cx="505.5" cy="54.7" r="0.8" fill="none" stroke="#2a9df4" stroke-width="0.7" opacity="0.9"/><circle cx="506.4" cy="54.7" r="0.8" fill="none" stroke="#2a9df4" stroke-width="0.7" opacity="0.9"/><circle cx="507.3" cy="54.6" r="0.8" fill="none" stroke="#2a9df4" stroke-width="0.7" opacity="0.9"/><circle cx="508.2" cy="54.6" r="0.8" fill="none" stroke="#2a9df4" stroke-width="0.7" opacity="0.9"/><circle cx="509.1" cy="54.5" r="0.8" fill="none" stroke="#2a9df4" stroke-width="0.7" opacity="0.9"/><circle cx="510.0" cy="54.5" r="0.8" fill="none" stroke="#2a9df4" stroke-width="0.7" opacity="0.9"/><circle cx="510.9" cy="54.5" r="0.8" fill="none" stroke="#2a9df4" stroke-width="0.7" opacity="0.9"/><circle cx="511.9" cy="54.4" r="0.8" fill="none" stroke="#2a9df4" stroke-width="0.7" opacity="0.9"/><circle cx="512.8" cy="54.4" r="0.8" fill="none" stroke="#2a9df4" stroke-width="0.7" opacity="0.9"/><circle cx="513.7" cy="54.3" r="0.8" fill="none" stroke="#2a9df4" stroke-width="0.7" opacity="0.9"/><circle cx="514.6" cy="54.3" r="0.8" fill="none" stroke="#2a9df4" stroke-width="0.7" opacity="0.9"/><circle cx="515.5" cy="54.2" r="0.8" fill="none" stroke="#2a9df4" stroke-width="0.7" opacity="0.9"/><circle cx="516.4" cy="54.2" r="0.8" fill="none" stroke="#2a9df4" stroke-width="0.7" opacity="0.9"/><circle cx="517.3" cy="54.1" r="0.8" fill="none" stroke="#2a9df4" stroke-width="0.7" opacity="0.9"/><circle cx="518.2" cy="54.1" r="0.8" fill="none" stroke="#2a9df4" stroke-width="0.7" opacity="0.9"/><circle cx="519.2" cy="54.0" r="0.8" fill="none" stroke="#2a9df4" stroke-width="0.7" opacity="0.9"/><circle cx="520.1" cy="54.0" r="0.8" fill="none" stroke="#2a9df4" stroke-width="0.7" opacity="0.9"/><circle cx="521.0" cy="53.9" r="0.8" fill="none" stroke="#2a9df4" stroke-width="0.7" opacity="0.9"/><circle cx="521.9" cy="53.9" r="0.8" fill="none" stroke="#2a9df4" stroke-width="0.7" opacity="0.9"/><circle cx="521.9" cy="53.9" r="0.8" fill="none" stroke="#2a9df4" stroke-width="0.7" opacity="0.9"/><circle cx="522.8" cy="53.6" r="0.8" fill="none" stroke="#2a9df4" stroke-width="0.7" opacity="0.9"/><circle cx="523.7" cy="53.3" r="0.8" fill="none" stroke="#2a9df4" stroke-width="0.7" opacity="0.9"/><circle cx="524.5" cy="53.0" r="0.8" fill="none" stroke="#2a9df4" stroke-width="0.7" opacity="0.9"/><circle cx="525.4" cy="52.7" r="0.8" fill="none" stroke="#2a9df4" stroke-width="0.7" opacity="0.9"/><circle cx="526.3" cy="52.4" r="0.8" fill="none" stroke="#2a9df4" stroke-width="0.7" opacity="0.9"/><circle cx="526.3" cy="52.4" r="0.8" fill="none" stroke="#2a9df4" stroke-width="0.7" opacity="0.9"/><circle cx="527.2" cy="52.1" r="0.8" fill="none" stroke="#2a9df4" stroke-width="0.7" opacity="0.9"/><circle cx="528.1" cy="51.9" r="0.8" fill="none" stroke="#2a9df4" stroke-width="0.7" opacity="0.9"/><circle cx="529.0" cy="51.6" r="0.8" fill="none" stroke="#2a9df4" stroke-width="0.7" opacity="0.9"/><circle cx="530.0" cy="51.4" r="0.8" fill="none" stroke="#2a9df4" stroke-width="0.7" opacity="0.9"/><circle cx="530.9" cy="51.1" r="0.8" fill="none" stroke="#2a9df4" stroke-width="0.7" opacity="0.9"/><circle cx="531.8" cy="50.9" r="0.8" fill="none" stroke="#2a9df4" stroke-width="0.7" opacity="0.9"/><circle cx="532.7" cy="50.6" r="0.8" fill="none" stroke="#2a9df4" stroke-width="0.7" opacity="0.9"/><circle cx="533.6" cy="50.4" r="0.8" fill="none" stroke="#2a9df4" stroke-width="0.7" opacity="0.9"/><circle cx="533.6" cy="50.4" r="0.8" fill="none" stroke="#2a9df4" stroke-width="0.7" opacity="0.9"/><circle cx="534.3" cy="49.9" r="0.8" fill="none" stroke="#2a9df4" stroke-width="0.7" opacity="0.9"/><circle cx="535.0" cy="49.5" r="0.8" fill="none" stroke="#2a9df4" stroke-width="0.7" opacity="0.9"/><circle cx="535.8" cy="49.0" r="0.8" fill="none" stroke="#2a9df4" stroke-width="0.7" opacity="0.9"/><circle cx="536.5" cy="48.5" r="0.8" fill="none" stroke="#2a9df4" stroke-width="0.7" opacity="0.9"/><circle cx="536.5" cy="48.5" r="0.8" fill="none" stroke="#2a9df4" stroke-width="0.7" opacity="0.9"/><circle cx="536.5" cy="47.6" r="0.8" fill="none" stroke="#2a9df4" stroke-width="0.7" opacity="0.9"/><circle cx="536.5" cy="46.7" r="0.8" fill="none" stroke="#2a9df4" stroke-width="0.7" opacity="0.9"/><circle cx="536.5" cy="45.8" r="0.8" fill="none" stroke="#2a9df4" stroke-width="0.7" opacity="0.9"/><circle cx="536.5" cy="44.9" r="0.8" fill="none" stroke="#2a9df4" stroke-width="0.7" opacity="0.9"/><circle cx="536.5" cy="44.0" r="0.8" fill="none" stroke="#2a9df4" stroke-width="0.7" opacity="0.9"/><circle cx="536.5" cy="43.1" r="0.8" fill="none" stroke="#2a9df4" stroke-width="0.7" opacity="0.9"/><circle cx="536.5" cy="42.2" r="0.8" fill="none" stroke="#2a9df4" stroke-width="0.7" opacity="0.9"/><circle cx="536.5" cy="41.3" r="0.8" fill="none" stroke="#2a9df4" stroke-width="0.7" opacity="0.9"/><circle cx="536.5" cy="40.5" r="0.8" fill="none" stroke="#2a9df4" stroke-width="0.7" opacity="0.9"/><circle cx="536.5" cy="39.6" r="0.8" fill="none" stroke="#2a9df4" stroke-width="0.7" opacity="0.9"/><circle cx="536.5" cy="38.7" r="0.8" fill="none" stroke="#2a9df4" stroke-width="0.7" opacity="0.9"/><circle cx="536.5" cy="37.8" r="0.8" fill="none" stroke="#2a9df4" stroke-width="0.7" opacity="0.9"/><circle cx="536.5" cy="36.9" r="0.8" fill="none" stroke="#2a9df4" stroke-width="0.7" opacity="0.9"/><circle cx="536.5" cy="36.0" r="0.8" fill="none" stroke="#2a9df4" stroke-width="0.7" opacity="0.9"/><circle cx="536.5" cy="35.1" r="0.8" fill="none" stroke="#2a9df4" stroke-width="0.7" opacity="0.9"/><circle cx="536.5" cy="34.2" r="0.8" fill="none" stroke="#2a9df4" stroke-width="0.7" opacity="0.9"/><circle cx="536.5" cy="33.3" r="0.8" fill="none" stroke="#2a9df4" stroke-width="0.7" opacity="0.9"/><circle cx="536.5" cy="32.4" r="0.8" fill="none" stroke="#2a9df4" stroke-width="0.7" opacity="0.9"/><circle cx="536.5" cy="32.4" r="0.8" fill="none" stroke="#2a9df4" stroke-width="0.7" opacity="0.9"/><circle cx="537.4" cy="32.4" r="0.8" fill="none" stroke="#2a9df4" stroke-width="0.7" opacity="0.9"/><circle cx="538.2" cy="32.4" r="0.8" fill="none" stroke="#2a9df4" stroke-width="0.7" opacity="0.9"/><circle cx="539.1" cy="32.4" r="0.8" fill="none" stroke="#2a9df4" stroke-width="0.7" opacity="0.9"/><circle cx="540.0" cy="32.4" r="0.8" fill="none" stroke="#2a9df4" stroke-width="0.7" opacity="0.9"/><circle cx="540.9" cy="32.4" r="0.8" fill="none" stroke="#2a9df4" stroke-width="0.7" opacity="0.9"/><circle cx="541.7" cy="32.4" r="0.8" fill="none" stroke="#2a9df4" stroke-width="0.7" opacity="0.9"/><circle cx="542.6" cy="32.4" r="0.8" fill="none" stroke="#2a9df4" stroke-width="0.7" opacity="0.9"/><circle cx="543.5" cy="32.4" r="0.8" fill="none" stroke="#2a9df4" stroke-width="0.7" opacity="0.9"/><circle cx="544.4" cy="32.4" r="0.8" fill="none" stroke="#2a9df4" stroke-width="0.7" opacity="0.9"/><circle cx="545.2" cy="32.4" r="0.8" fill="none" stroke="#2a9df4" stroke-width="0.7" opacity="0.9"/><circle cx="546.1" cy="32.4" r="0.8" fill="none" stroke="#2a9df4" stroke-width="0.7" opacity="0.9"/><circle cx="547.0" cy="32.4" r="0.8" fill="none" stroke="#2a9df4" stroke-width="0.7" opacity="0.9"/><circle cx="547.9" cy="32.4" r="0.8" fill="none" stroke="#2a9df4" stroke-width="0.7" opacity="0.9"/><circle cx="548.7" cy="32.4" r="0.8" fill="none" stroke="#2a9df4" stroke-width="0.7" opacity="0.9"/><circle cx="549.6" cy="32.4" r="0.8" fill="none" stroke="#2a9df4" stroke-width="0.7" opacity="0.9"/><circle cx="549.6" cy="32.4" r="0.85" fill="none" stroke="#2a9df4" stroke-width="0.75" opacity="0.9"/><circle cx="551.1" cy="32.9" r="0.85" fill="none" stroke="#2a9df4" stroke-width="0.75" opacity="0.9"/><circle cx="552.6" cy="33.3" r="0.85" fill="none" stroke="#2a9df4" stroke-width="0.75" opacity="0.9"/><circle cx="554.1" cy="33.8" r="0.85" fill="none" stroke="#2a9df4" stroke-width="0.75" opacity="0.9"/><circle cx="555.5" cy="34.2" r="0.85" fill="none" stroke="#2a9df4" stroke-width="0.75" opacity="0.9"/><circle cx="557.0" cy="34.7" r="0.85" fill="none" stroke="#2a9df4" stroke-width="0.75" opacity="0.9"/><circle cx="558.5" cy="35.1" r="0.85" fill="none" stroke="#2a9df4" stroke-width="0.75" opacity="0.9"/><circle cx="560.0" cy="35.6" r="0.85" fill="none" stroke="#2a9df4" stroke-width="0.75" opacity="0.9"/><circle cx="560.0" cy="35.6" r="0.85" fill="none" stroke="#2a9df4" stroke-width="0.75" opacity="0.9"/><circle cx="561.6" cy="35.9" r="0.85" fill="none" stroke="#2a9df4" stroke-width="0.75" opacity="0.9"/><circle cx="563.2" cy="36.2" r="0.85" fill="none" stroke="#2a9df4" stroke-width="0.75" opacity="0.9"/><circle cx="564.8" cy="36.5" r="0.85" fill="none" stroke="#2a9df4" stroke-width="0.75" opacity="0.9"/><circle cx="566.3" cy="36.8" r="0.85" fill="none" stroke="#2a9df4" stroke-width="0.75" opacity="0.9"/><circle cx="567.9" cy="37.1" r="0.85" fill="none" stroke="#2a9df4" stroke-width="0.75" opacity="0.9"/><circle cx="569.5" cy="37.4" r="0.85" fill="none" stroke="#2a9df4" stroke-width="0.75" opacity="0.9"/><circle cx="569.5" cy="37.4" r="0.95" fill="none" stroke="#2a9df4" stroke-width="0.8" opacity="0.95"/><circle cx="570.6" cy="37.7" r="0.95" fill="none" stroke="#2a9df4" stroke-width="0.8" opacity="0.95"/><circle cx="571.8" cy="38.1" r="0.95" fill="none" stroke="#2a9df4" stroke-width="0.8" opacity="0.95"/><circle cx="572.9" cy="38.4" r="0.95" fill="none" stroke="#2a9df4" stroke-width="0.8" opacity="0.95"/><circle cx="574.0" cy="38.8" r="0.95" fill="none" stroke="#2a9df4" stroke-width="0.8" opacity="0.95"/><circle cx="575.1" cy="39.1" r="0.95" fill="none" stroke="#2a9df4" stroke-width="0.8" opacity="0.95"/><circle cx="576.2" cy="39.5" r="0.95" fill="none" stroke="#2a9df4" stroke-width="0.8" opacity="0.95"/><circle cx="577.4" cy="39.8" r="0.95" fill="none" stroke="#2a9df4" stroke-width="0.8" opacity="0.95"/><circle cx="578.5" cy="40.1" r="0.95" fill="none" stroke="#2a9df4" stroke-width="0.8" opacity="0.95"/><circle cx="579.6" cy="40.5" r="0.95" fill="none" stroke="#2a9df4" stroke-width="0.8" opacity="0.95"/><circle cx="580.8" cy="40.8" r="0.95" fill="none" stroke="#2a9df4" stroke-width="0.8" opacity="0.95"/><circle cx="581.9" cy="41.2" r="0.95" fill="none" stroke="#2a9df4" stroke-width="0.8" opacity="0.95"/><circle cx="583.0" cy="41.5" r="0.95" fill="none" stroke="#2a9df4" stroke-width="0.8" opacity="0.95"/><circle cx="587.0" cy="42.7" r="1.0" fill="none" stroke="#2a9df4" stroke-width="0.9" opacity="0.95"/><circle cx="588.4" cy="43.0" r="1.0" fill="none" stroke="#2a9df4" stroke-width="0.9" opacity="0.95"/><circle cx="593.6" cy="44.2" r="1.0" fill="none" stroke="#2a9df4" stroke-width="0.9" opacity="0.95"/><circle cx="595.0" cy="44.5" r="1.0" fill="none" stroke="#2a9df4" stroke-width="0.9" opacity="0.95"/><circle cx="601.6" cy="46.0" r="1.0" fill="none" stroke="#2a9df4" stroke-width="0.9" opacity="0.95"/><circle cx="603.0" cy="46.4" r="1.0" fill="none" stroke="#2a9df4" stroke-width="0.9" opacity="0.95"/><circle cx="491.5" cy="106.3" r="1.5" fill="none" stroke="#ee6a28" stroke-width="0.9"/><circle cx="483.2" cy="106.3" r="1.5" fill="none" stroke="#ee6a28" stroke-width="0.9"/><circle cx="479.5" cy="107.0" r="1.5" fill="none" stroke="#ee6a28" stroke-width="0.9"/><circle cx="476.3" cy="108.8" r="1.5" fill="none" stroke="#ee6a28" stroke-width="0.9"/><circle cx="456.9" cy="110.4" r="1.5" fill="none" stroke="#ee6a28" stroke-width="0.9"/><circle cx="451.5" cy="113.3" r="1.5" fill="none" stroke="#ee6a28" stroke-width="0.9"/><circle cx="468.1" cy="112.8" r="1.5" fill="none" stroke="#ee6a28" stroke-width="0.9"/><circle cx="430.3" cy="118.0" r="1.5" fill="none" stroke="#ee6a28" stroke-width="0.9"/><circle cx="491.5" cy="81.5" r="1.5" fill="none" stroke="#ee6a28" stroke-width="0.9"/><circle cx="494.0" cy="80.7" r="1.5" fill="none" stroke="#ee6a28" stroke-width="0.9"/><circle cx="430.6" cy="129.8" r="1.5" fill="none" stroke="#ee6a28" stroke-width="0.9"/><circle cx="423.3" cy="136.4" r="1.5" fill="none" stroke="#ee6a28" stroke-width="0.9"/><circle cx="420.8" cy="137.8" r="1.5" fill="none" stroke="#ee6a28" stroke-width="0.9"/><circle cx="412.4" cy="141.2" r="1.5" fill="none" stroke="#ee6a28" stroke-width="0.9"/><circle cx="408.4" cy="147.3" r="1.5" fill="none" stroke="#ee6a28" stroke-width="0.9"/><circle cx="536.5" cy="33.4" r="1.5" fill="none" stroke="#ee6a28" stroke-width="0.9"/><circle cx="536.5" cy="38.7" r="1.5" fill="none" stroke="#ee6a28" stroke-width="0.9"/><circle cx="547.4" cy="33.1" r="1.5" fill="none" stroke="#ee6a28" stroke-width="0.9"/><circle cx="569.8" cy="37.5" r="1.5" fill="none" stroke="#ee6a28" stroke-width="0.9"/><circle cx="526.6" cy="52.4" r="1.5" fill="none" stroke="#ee6a28" stroke-width="0.9"/><circle cx="533.3" cy="50.4" r="1.5" fill="none" stroke="#ee6a28" stroke-width="0.9"/><circle cx="508.8" cy="66.5" r="1.5" fill="none" stroke="#ee6a28" stroke-width="0.9"/><circle cx="493.6" cy="69.2" r="1.5" fill="none" stroke="#ee6a28" stroke-width="0.9"/><path d="M407.5 251.5H685" fill="none" stroke="#d6d6d6" stroke-width="1.1"/><path d="M407.5 3.1V252" fill="none" stroke="#888" stroke-width="1"/><line x1="408" y1="244.7" x2="410.4" y2="244.7" stroke="#b0b0b0" stroke-width="0.8"/><text x="404" y="248.6" text-anchor="end" class="tk">50</text><line x1="408" y1="217.9" x2="410.4" y2="217.9" stroke="#b0b0b0" stroke-width="0.8"/><text x="404" y="221.8" text-anchor="end" class="tk">100</text><line x1="408" y1="191.1" x2="410.4" y2="191.1" stroke="#b0b0b0" stroke-width="0.8"/><text x="404" y="195.0" text-anchor="end" class="tk">150</text><line x1="408" y1="164.3" x2="410.4" y2="164.3" stroke="#b0b0b0" stroke-width="0.8"/><text x="404" y="168.2" text-anchor="end" class="tk">200</text><line x1="408" y1="137.5" x2="410.4" y2="137.5" stroke="#b0b0b0" stroke-width="0.8"/><text x="404" y="141.4" text-anchor="end" class="tk">250</text><line x1="408" y1="110.7" x2="410.4" y2="110.7" stroke="#b0b0b0" stroke-width="0.8"/><text x="404" y="114.6" text-anchor="end" class="tk">300</text><line x1="408" y1="83.9" x2="410.4" y2="83.9" stroke="#b0b0b0" stroke-width="0.8"/><text x="404" y="87.8" text-anchor="end" class="tk">350</text><line x1="408" y1="57.1" x2="410.4" y2="57.1" stroke="#b0b0b0" stroke-width="0.8"/><text x="404" y="61.0" text-anchor="end" class="tk">400</text><line x1="408" y1="30.3" x2="410.4" y2="30.3" stroke="#b0b0b0" stroke-width="0.8"/><text x="404" y="34.2" text-anchor="end" class="tk">450</text><line x1="408" y1="3.5" x2="410.4" y2="3.5" stroke="#b0b0b0" stroke-width="0.8"/><text x="404" y="7.4" text-anchor="end" class="tk">500</text><text x="407.6" y="265.8" text-anchor="middle" class="tk">1000</text><line x1="450.2" y1="251.2" x2="450.2" y2="248.9" stroke="#9a9a9a" stroke-width="0.8"/><text x="450.2" y="265.8" text-anchor="middle" class="tk">1200</text><line x1="492.7" y1="251.2" x2="492.7" y2="248.9" stroke="#9a9a9a" stroke-width="0.8"/><text x="492.7" y="265.8" text-anchor="middle" class="tk">1400</text><line x1="535.2" y1="251.2" x2="535.2" y2="248.9" stroke="#9a9a9a" stroke-width="0.8"/><text x="535.2" y="265.8" text-anchor="middle" class="tk">1600</text><line x1="577.8" y1="251.2" x2="577.8" y2="248.9" stroke="#9a9a9a" stroke-width="0.8"/><text x="577.8" y="265.8" text-anchor="middle" class="tk">1800</text><line x1="620.4" y1="251.2" x2="620.4" y2="248.9" stroke="#9a9a9a" stroke-width="0.8"/><text x="620.4" y="265.8" text-anchor="middle" class="tk">2000</text><line x1="662.9" y1="251.2" x2="662.9" y2="248.9" stroke="#9a9a9a" stroke-width="0.8"/><text x="662.9" y="265.8" text-anchor="middle" class="tk">2200</text><text x="546.3" y="280" text-anchor="middle" class="lb">Speed (r/min)</text><text transform="translate(383.6 128.2) rotate(-90)" text-anchor="middle" class="lb">Torque (N·m)</text><ellipse cx="515.4" cy="14.2" rx="1.15" ry="1.65" fill="none" stroke="#1e90ff" stroke-width="0.7" opacity="0.8"/><text x="522.6" y="17.8" class="lg">PF</text><ellipse cx="544.8" cy="14.2" rx="1.15" ry="1.65" fill="none" stroke="#ff641e" stroke-width="0.7" opacity="0.8"/><text x="552.3" y="17.8" class="lg">DDQN</text><text x="540.1" y="319" text-anchor="middle" class="cap">(b)</text></g>
</svg></body></html>
